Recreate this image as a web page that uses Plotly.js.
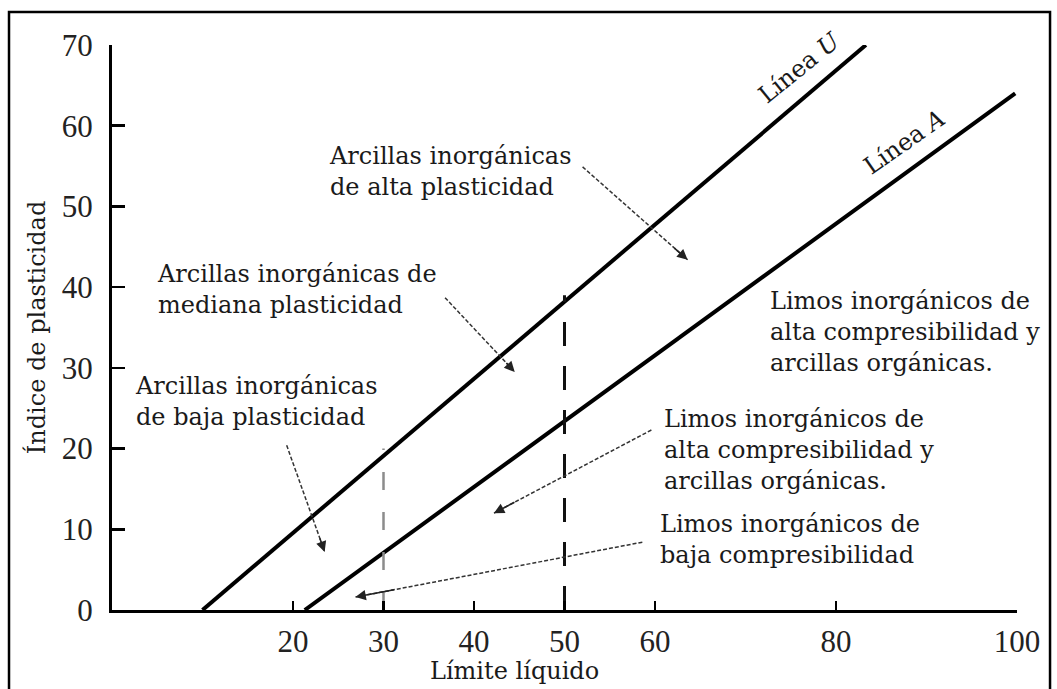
<!DOCTYPE html>
<html>
<head>
<meta charset="utf-8">
<script src="https://cdn.plot.ly/plotly-3.0.1.min.js"></script>
<style>
  html, body { margin: 0; padding: 0; background: #fff; }
  #chart { width: 1057px; height: 689px; }
</style>
</head>
<body>
<div id="chart"></div>
<script>
// ---- Data ----
const xTickVals = [20, 30, 40, 50, 60, 80, 100];
const xTickText = ["20", "30", "40", "50", "60", "80", "100"];
const yTickVals = [0, 10, 20, 30, 40, 50, 60, 70];
const yTickText = ["0", "10", "20", "30", "40", "50", "60", "70"];

// Línea U and Línea A (liquid limit, plasticity index)
const uLineLL = [10, 83.3];
const uLinePI = [0, 70];
const aLineLL = [21.3, 99.8];
const aLinePI = [0, 64];

// dashed verticals at LL = 30 and LL = 50
const dash30LL = [30, 30];
const dash30PI = [0, 20];
const dash50LL = [50, 50];
const dash50PI = [0, 39];

// region labels
const regionTexts = [
  "Arcillas inorgánicas<br>de alta plasticidad",
  "Arcillas inorgánicas de<br>mediana plasticidad",
  "Arcillas inorgánicas<br>de baja plasticidad",
  "Limos inorgánicos de<br>alta compresibilidad y<br>arcillas orgánicas.",
  "Limos inorgánicos de<br>alta compresibilidad y<br>arcillas orgánicas.",
  "Limos inorgánicos de<br>baja compresibilidad"
];
const regionLL = [23.8, 4.75, 2.3, 72.5, 60.8, 60.3];
const regionPI = [54.3, 39.7, 25.8, 34.4, 19.8, 8.7];

// pointer arrows (tail -> head)
const arrowTailLL = [52.0, 36.8, 19.3, 59.6, 58.6];
const arrowTailPI = [54.9, 38.7, 20.4, 22.3, 8.4];
const arrowHeadLL = [63.6, 44.5, 23.5, 42.2, 26.9];
const arrowHeadPI = [43.4, 29.5, 7.2, 12.0, 1.6];

// line name labels
const lineLabels = ["Línea <i>U</i>", "Línea <i>A</i>"];
const lineLabelLL = [75.9, 87.6];
const lineLabelPI = [67.2, 58.0];
const lineLabelAngle = [-39, -35];

// ---- Styling ----
const SERIF = "DejaVu Serif, Liberation Serif, serif";
const TICKFONT = "Liberation Serif, DejaVu Serif, serif";
const INK = "#1a1a1a";

const traces = [
  { x: uLineLL, y: uLinePI, mode: "lines", line: { color: "#000", width: 4 }, hoverinfo: "skip" },
  { x: aLineLL, y: aLinePI, mode: "lines", line: { color: "#000", width: 4 }, hoverinfo: "skip" },
  { x: dash30LL, y: dash30PI, mode: "lines", line: { color: "#8c8c8c", width: 2.5, dash: "18px,22px" }, hoverinfo: "skip" },
  { x: dash50LL, y: dash50PI, mode: "lines", line: { color: "#111", width: 3, dash: "24px,20px" }, hoverinfo: "skip" }
];

for (let i = 0; i < arrowTailLL.length; i++) {
  traces.push({
    x: [arrowTailLL[i], arrowHeadLL[i]],
    y: [arrowTailPI[i], arrowHeadPI[i]],
    mode: "lines",
    line: { color: "#333", width: 1.5, dash: "4px,2px" },
    hoverinfo: "skip"
  });
}

const annotations = [];
for (let i = 0; i < regionTexts.length; i++) {
  annotations.push({
    x: regionLL[i], y: regionPI[i], xref: "x", yref: "y",
    text: regionTexts[i], showarrow: false,
    xanchor: "left", yanchor: "middle", align: "left",
    font: { family: SERIF, size: 24, color: INK }
  });
}
for (let i = 0; i < arrowHeadLL.length; i++) {
  const f = 0.14;
  annotations.push({
    x: arrowHeadLL[i], y: arrowHeadPI[i], xref: "x", yref: "y",
    ax: arrowHeadLL[i] + (arrowTailLL[i] - arrowHeadLL[i]) * f,
    ay: arrowHeadPI[i] + (arrowTailPI[i] - arrowHeadPI[i]) * f,
    axref: "x", ayref: "y",
    text: "", showarrow: true,
    arrowhead: 2, arrowsize: 1.3, arrowwidth: 1.6, arrowcolor: "#222"
  });
}
for (let i = 0; i < lineLabels.length; i++) {
  annotations.push({
    x: lineLabelLL[i], y: lineLabelPI[i], xref: "x", yref: "y",
    text: lineLabels[i], showarrow: false, textangle: lineLabelAngle[i],
    font: { family: SERIF, size: 24, color: INK }
  });
}
// x axis title (placed left of centre as in the reference)
annotations.push({
  x: 0.445, y: -0.108, xref: "paper", yref: "paper",
  text: "Límite líquido", showarrow: false,
  xanchor: "center", yanchor: "middle",
  font: { family: SERIF, size: 24, color: INK }
});

const layout = {
  width: 1057, height: 689,
  margin: { l: 112, r: 40, t: 45, b: 79 },
  paper_bgcolor: "#fff", plot_bgcolor: "#fff",
  showlegend: false,
  xaxis: {
    range: [0, 100], showgrid: false, zeroline: false,
    showline: true, linecolor: "#000", linewidth: 3,
    ticks: "inside", ticklen: 9, tickwidth: 2.5, tickcolor: "#000",
    tickvals: xTickVals, ticktext: xTickText,
    tickfont: { family: TICKFONT, size: 31, color: "#222" },
    ticklabelstandoff: 2, fixedrange: true
  },
  yaxis: {
    range: [0, 70], showgrid: false, zeroline: false,
    showline: true, linecolor: "#000", linewidth: 3,
    ticks: "inside", ticklen: 13, tickwidth: 2.5, tickcolor: "#000",
    tickvals: yTickVals, ticktext: yTickText,
    tickfont: { family: TICKFONT, size: 31, color: "#222" },
    ticklabelstandoff: 10, fixedrange: true,
    title: { text: "Índice de plasticidad", standoff: 10,
             font: { family: SERIF, size: 24, color: INK } }
  },
  annotations: annotations,
  shapes: [{
    type: "rect", xref: "paper", yref: "paper",
    x0: -0.1138, x1: 1.0365, y0: -0.25, y1: 1.0584,
    line: { color: "#000", width: 2.5 }, fillcolor: "rgba(0,0,0,0)"
  }]
};

Plotly.newPlot("chart", traces, layout, { displayModeBar: false, staticPlot: true });
</script>
</body>
</html>
